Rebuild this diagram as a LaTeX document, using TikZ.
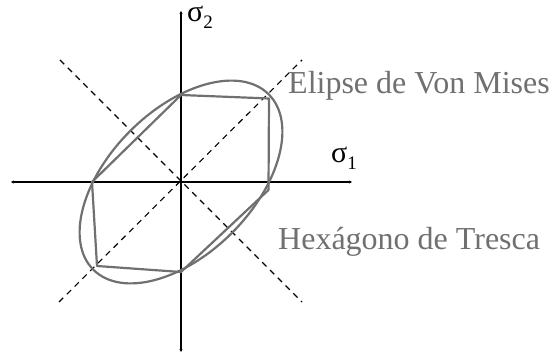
\documentclass[tikz,border=0pt]{standalone}
\usepackage{fontspec}
\setmainfont{Liberation Serif}
\usepackage{xcolor}
\usetikzlibrary{arrows.meta}
\definecolor{curvegray}{RGB}{112,112,112}
\newcommand{\sigsub}[1]{{\fontsize{30}{30}\selectfont σ}\raisebox{-7pt}{\fontsize{19}{19}\selectfont #1}}

\begin{document}
\begin{tikzpicture}[x=1pt,y=1pt,
  axis/.style={line width=1.4pt, {Stealth[length=3pt,width=3pt]}-{Stealth[length=3pt,width=3pt]}},
  guide/.style={line width=1.1pt, dash pattern=on 6pt off 5pt},
  yieldline/.style={draw=curvegray, line width=2.2pt, line join=round},
  caption/.style={inner sep=0pt, anchor=base west, text=curvegray, font=\fontsize{32}{32}\selectfont}]
\useasboundingbox (-181,-170) rectangle (372,182);
% axes
\coordinate (xl) at (-170,0);
\coordinate (xr) at (171,0);
\coordinate (yb) at (0,-170);
\coordinate (yt) at (0,171);
\draw[axis] (xl) -- (xr);
\draw[axis] (yb) -- (yt);
\node[inner sep=0pt, anchor=base west] (s1) at (150,19) {\sigsub{1}};
\node[inner sep=0pt, anchor=base west] (s2) at (6,160) {\sigsub{2}};
% diagonals
\coordinate (d1) at (-121,122);
\coordinate (d2) at (121,-120);
\coordinate (d3) at (-122,-120);
\coordinate (d4) at (121,122);
\draw[guide] (d1) -- (d2);
\draw[guide] (d3) -- (d4);
% Von Mises
\draw[yieldline, rotate=45] (0,0) ellipse (124 and 72);
% Tresca
\coordinate (t) at (0,87);
\coordinate (tr) at (88,83.5);
\coordinate (r) at (87.5,-8);
\coordinate (b) at (0,-90);
\coordinate (bl) at (-84,-84);
\coordinate (l) at (-89,0);
\draw[yieldline] (t) -- (tr) -- (r) -- (b) -- (bl) -- (l) -- cycle;
\node[caption] (vm) at (107,88) {Elipse de Von Mises};
\node[caption] (tc) at (97,-68) {Hexágono de Tresca};
\end{tikzpicture}
\end{document}
